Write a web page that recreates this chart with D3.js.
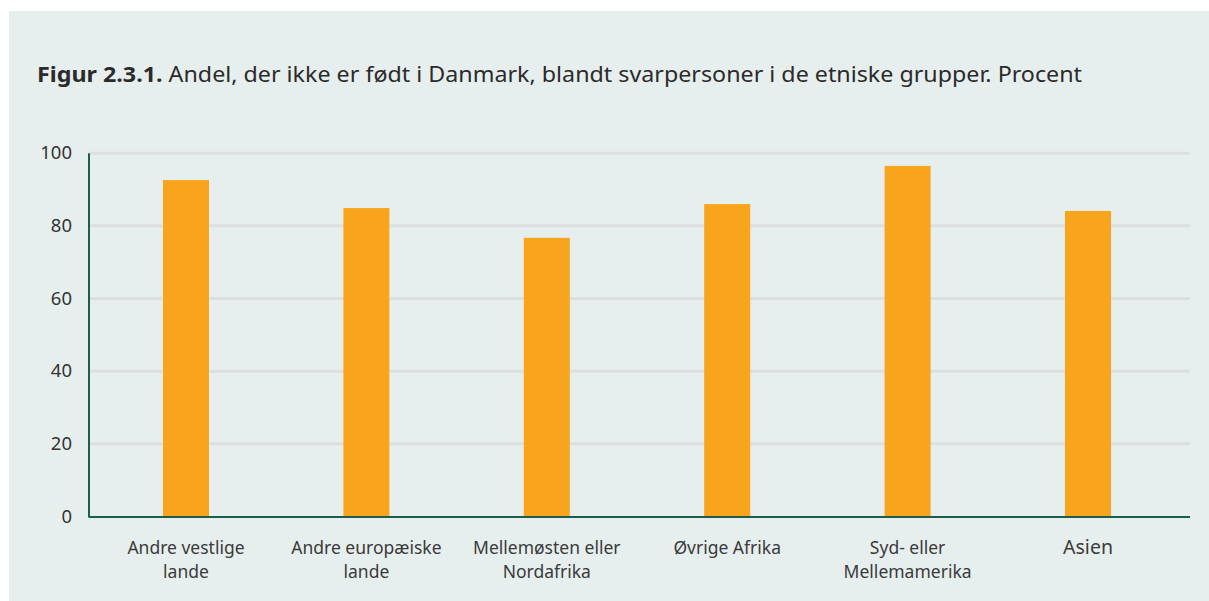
<!DOCTYPE html>
<html>
<head>
<meta charset="utf-8">
<script src="https://cdn.jsdelivr.net/npm/d3@7"></script>
<style>
  html, body { margin: 0; padding: 0; background: #ffffff; }
  svg { display: block; }
  text { font-family: "Noto Sans", Lato, sans-serif; }
</style>
</head>
<body>
<svg id="chart" width="1209" height="601"></svg>
<script>
const categories = [
  ["Andre vestlige", "lande"],
  ["Andre europæiske", "lande"],
  ["Mellemøsten eller", "Nordafrika"],
  ["Øvrige Afrika"],
  ["Syd- eller", "Mellemamerika"],
  ["Asien"]
];
const values = [92.6, 84.9, 76.7, 86.0, 96.5, 84.1];
const yTicks = [0, 20, 40, 60, 80, 100];
const titleBold = "Figur 2.3.1.";
const titleRest = " Andel, der ikke er født i Danmark, blandt svarpersoner i de etniske grupper. Procent";

const svg = d3.select("#chart");
const W = 1209, H = 601;

svg.append("rect").attr("x", 9).attr("y", 11).attr("width", W - 9).attr("height", H - 11)
  .attr("fill", "#e7efee");

const title = svg.append("text").attr("x", 37).attr("y", 82)
  .attr("font-size", 21).attr("fill", "#2b2b2b");
title.append("tspan").attr("font-weight", "bold").text(titleBold);
title.append("tspan").text(titleRest);
title.attr("textLength", 1045).attr("lengthAdjust", "spacingAndGlyphs");

const x0 = 89, x1 = 1190;
const y = d3.scaleLinear().domain([0, 100]).range([516.5, 153.2]);
const x = d3.scaleBand().domain(d3.range(categories.length)).range([95.8, 1178.2])
  .paddingInner(0.745).paddingOuter(0.3725);

// gridlines
svg.append("g").selectAll("line").data(yTicks.filter(d => d > 0)).join("line")
  .attr("x1", x0).attr("x2", x1)
  .attr("y1", d => y(d)).attr("y2", d => y(d))
  .attr("stroke", "#dcdfe0").attr("stroke-width", 3);

// y axis labels
const yAxis = d3.axisLeft(y).tickValues(yTicks).tickSize(0).tickPadding(0);
const gy = svg.append("g").attr("transform", `translate(72,0)`).call(yAxis);
gy.select(".domain").remove();
gy.selectAll("text").attr("font-size", 18.5).attr("fill", "#333333")
  .attr("font-family", "'Noto Sans', Lato, sans-serif").attr("dy", "0.3em");

// bars
svg.append("g").selectAll("rect").data(values).join("rect")
  .attr("x", (d, i) => x(i)).attr("width", x.bandwidth())
  .attr("y", d => y(d)).attr("height", d => y(0) - y(d))
  .attr("fill", "#f8a51d");

// axes lines
svg.append("line").attr("x1", x0).attr("x2", x0).attr("y1", y(100)).attr("y2", 517.5)
  .attr("stroke", "#1d5e4a").attr("stroke-width", 2);
svg.append("line").attr("x1", x0).attr("x2", x1).attr("y1", 517).attr("y2", 517)
  .attr("stroke", "#1d5e4a").attr("stroke-width", 2);

// x labels
const xl = svg.append("g").selectAll("text").data(categories).join("text")
  .attr("text-anchor", "middle")
  .attr("x", (d, i) => x(i) + x.bandwidth() / 2)
  .attr("y", 554)
  .attr("font-size", (d, i) => i === 5 ? 19.5 : 17.5)
  .attr("fill", "#3a3a3a");
xl.each(function(d) {
  const t = d3.select(this);
  d.forEach((line, j) => {
    t.append("tspan").attr("x", t.attr("x")).attr("dy", j === 0 ? 0 : 24).text(line);
  });
});
</script>
</body>
</html>
